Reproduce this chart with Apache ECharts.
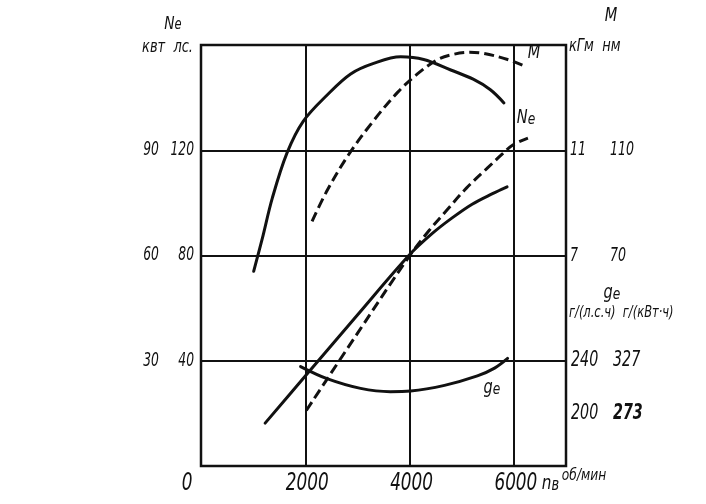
<!DOCTYPE html>
<html>
<head>
<meta charset="utf-8">
<script src="https://cdn.jsdelivr.net/npm/echarts@6/dist/echarts.min.js"></script>
<style>
html,body{margin:0;padding:0;background:#fff;}
#c{width:706px;height:504px;}
</style>
</head>
<body>
<div id="c"></div>
<script>
// ---- data ----
// torque M, kGm (solid curve)
const rpmM1 = [1010,1170,1370,1650,1960,2420,2870,3310,3830,4270,4790,5220,5550,5810];
const torqueM1 = [6.4,7.6,9.2,10.9,12.1,13.1,13.9,14.3,14.55,14.45,14.05,13.7,13.3,12.8];
// torque M, kGm (dashed curve)
const rpmM2 = [2130,2400,2820,3300,3770,4150,4540,4850,5150,5420,5880,6200];
const torqueM2 = [8.3,9.4,10.8,12.1,13.2,13.9,14.45,14.65,14.72,14.68,14.45,14.2];
// power Ne, hp (solid curve)
const rpmNe1 = [1230,2000,3000,3990,4430,4810,5200,5590,5870];
const powerNe1 = [16.3,34.2,57.4,80.1,88.3,94.2,99.5,103.5,106.1];
// power Ne, hp (dashed curve)
const rpmNe2 = [2020,3000,3980,4370,4700,5090,5480,5780,5980,6270];
const powerNe2 = [21.1,50.4,79.3,89.4,96.9,105.6,113.0,118.6,122.0,124.6];
// specific consumption ge, g/(hp·h)
const rpmGe = [1910,2430,3060,3630,4020,4670,5300,5630,5880];
const consGe = [235.6,226.2,219.0,216.5,217.0,221.3,228.5,234.4,241.8];

// ---- tick labels ----
const xTicks = [2000,4000,6000];
const xTickLabels = ['2000','4000','6000'];
const hpTicks = [40,80,120];
const hpTickLabels = ['40','80','120'];
const kwTickLabels = ['30','60','90'];
const mTicks = [7,11];
const mTickLabels = ['7','11'];
const nmTickLabels = ['70','110'];
const geTicks = [200,240];
const geTickLabels = ['200','240'];
const geKwhTickLabels = ['273','327'];

const FONT = "'Liberation Sans Narrow','DejaVu Sans Condensed','Liberation Sans',sans-serif";
const INK = '#111';

const chart = echarts.init(document.getElementById('c'), null, {renderer:'canvas'});

function pairs(xs, ys){ return xs.map((x,i)=>[x, ys[i]]); }

const lineStyleSolid = {color: INK, width: 3, type: 'solid', cap: 'round'};
const lineStyleDash = {color: INK, width: 3, type: [10,5]};

function curve(name, axis, xs, ys, style){
  return {type: 'line', name: name, yAxisIndex: axis, data: pairs(xs, ys),
    smooth: 0.35, showSymbol: false, lineStyle: style};
}

chart.setOption({
  backgroundColor: '#fff',
  animation: false,
  grid: {left: 201, right: 140, top: 45, bottom: 38, show: true, borderColor: INK, borderWidth: 2.5, backgroundColor: 'transparent'},
  xAxis: {
    type: 'value', min: 0, max: 7000, interval: 2000,
    axisLine: {show: false}, axisTick: {show: false}, axisLabel: {show: false},
    splitLine: {show: true, lineStyle: {color: INK, width: 2}}
  },
  yAxis: [
    {type: 'value', min: 0, max: 160, interval: 40,
     axisLine: {show: false}, axisTick: {show: false}, axisLabel: {show: false},
     splitLine: {show: true, lineStyle: {color: INK, width: 2}}},
    {type: 'value', min: -1, max: 15, show: false, splitLine: {show: false}},
    {type: 'value', min: 160, max: 480, show: false, splitLine: {show: false}}
  ],
  series: [
    curve('M1', 1, rpmM1, torqueM1, lineStyleSolid),
    curve('M2', 1, rpmM2, torqueM2, lineStyleDash),
    curve('Ne1', 0, rpmNe1, powerNe1, lineStyleSolid),
    curve('Ne2', 0, rpmNe2, powerNe2, lineStyleDash),
    curve('ge', 2, rpmGe, consGe, lineStyleSolid)
  ]
});

function px(x, y, axis){
  return chart.convertToPixel({xAxisIndex: 0, yAxisIndex: axis || 0}, [x, y]);
}
function txt(text, x, y, size, align, sx, weight){
  return {
    type: 'text', x: x, y: y, silent: true, scaleX: sx || 1,
    style: {text: text, font: 'italic ' + (weight ? weight + ' ' : '') + size + 'px ' + FONT, fill: INK,
            textAlign: align || 'center', textVerticalAlign: 'middle'}
  };
}
function sub(main, s, x, y, size, align, sx){
  return {
    type: 'text', x: x, y: y, silent: true, scaleX: sx || 1,
    style: {
      text: '{a|' + main + '}{b|' + s + '}',
      textAlign: align || 'center', textVerticalAlign: 'middle',
      rich: {
        a: {font: 'italic ' + size + 'px ' + FONT, fill: INK, verticalAlign: 'bottom'},
        b: {font: 'italic ' + Math.round(size*0.85) + 'px ' + FONT, fill: INK, verticalAlign: 'bottom'}
      }
    }
  };
}

const g = [];
const gridLeft = px(0, 0)[0];
const gridRight = px(7000, 0)[0];
const gridBottom = px(0, 0)[1];
const gridTop = px(0, 160)[1];

// x ticks
xTicks.forEach((v, i) => {
  const p = px(v, 0);
  g.push(txt(xTickLabels[i], p[0] + 2, gridBottom + 18, 24, 'center', 0.78));
});
g.push(txt('0', gridLeft - 14, gridBottom + 18, 24, 'center', 0.78));
g.push(sub('n', 'в', px(6000,0)[0] + 28, gridBottom + 18, 20, 'left', 0.85));
g.push(txt('об/мин', px(6000,0)[0] + 48, gridBottom + 10, 16, 'left', 0.85));

// left ticks
hpTicks.forEach((v, i) => {
  const p = px(0, v);
  g.push(txt(kwTickLabels[i], gridLeft - 50, p[1], 19, 'center', 0.72));
  g.push(txt(hpTickLabels[i], gridLeft - 7, p[1], 19, 'right', 0.72));
});
g.push(sub('N', 'e', gridLeft - 28, gridTop - 21, 18, 'center', 0.85));
g.push(txt('квт  лс.', gridLeft - 8, gridTop + 3, 17, 'right', 0.85));

// right ticks: torque
mTicks.forEach((v, i) => {
  const p = px(7000, v, 1);
  g.push(txt(mTickLabels[i], gridRight + 4, p[1], 20, 'left', 0.7));
  g.push(txt(nmTickLabels[i], gridRight + 44, p[1], 20, 'left', 0.7));
});
g.push(txt('M', gridRight + 45, gridTop - 29, 19, 'center', 0.85));
g.push(txt('кГм  нм', gridRight + 3, gridTop + 2, 17, 'left', 0.85));

// right ticks: ge
geTicks.forEach((v, i) => {
  const p = px(7000, v, 2);
  g.push(txt(geTickLabels[i], gridRight + 5, p[1], 22, 'left', 0.72));
  g.push(txt(geKwhTickLabels[i], gridRight + 47, p[1], 22, 'left', 0.72, i === 0 ? 'bold' : null));
});
const ge80 = px(7000, 80)[1];
g.push(sub('g', 'e', gridRight + 46, ge80 + 38, 19, 'center', 0.85));
g.push(txt('г/(л.с.ч)  г/(кВт·ч)', gridRight + 3, ge80 + 58, 15, 'left', 0.85));

// curve labels
g.push(txt('M', gridRight - 32, gridTop + 8, 19, 'center', 0.85));
g.push(sub('N', 'e', gridRight - 40, gridTop + 73, 19, 'center', 0.85));
g.push(sub('g', 'e', gridRight - 74, px(0, 30)[1] + 1, 19, 'center', 0.85));

chart.setOption({graphic: g});
</script>
</body>
</html>
